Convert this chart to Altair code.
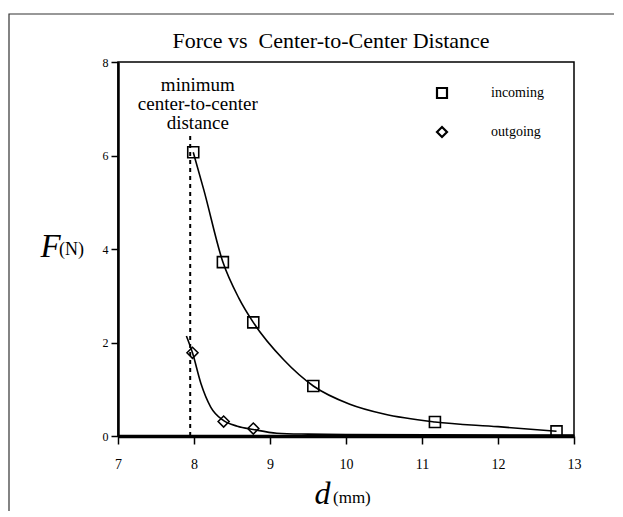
import altair as alt
import pandas as pd

# measured data points
inc_x = [7.99, 8.38, 8.78, 9.57, 11.17, 12.77]
inc_y = [6.07, 3.72, 2.43, 1.07, 0.30, 0.10]
out_x = [7.98, 8.39, 8.78]
out_y = [1.78, 0.31, 0.16]

# fitted curves
inc_fit_x = [7.99, 8.13, 8.38, 8.59, 8.78, 9.18, 9.57, 10.05, 10.5, 11.17, 12.0, 12.77]
inc_fit_y = [6.07, 5.26, 3.72, 2.95, 2.43, 1.63, 1.07, 0.68, 0.47, 0.30, 0.20, 0.10]
out_fit_x = [7.90, 7.98, 8.09, 8.22, 8.39, 8.57, 8.78, 9.09, 9.5, 10.0, 13.0]
out_fit_y = [2.14, 1.78, 1.13, 0.62, 0.33, 0.21, 0.14, 0.06, 0.04, 0.03, 0.02]

min_dist_x = [7.95]
min_dist_top = [6.44]

x_ticks = [7, 8, 9, 10, 11, 12, 13]
y_ticks = [0, 2, 4, 6, 8]

title_text = ["Force vs\u00a0 Center-to-Center Distance"]
unit_texts = ["(N)", "(mm)"]

SERIF = "Liberation Serif, Times New Roman, serif"

pts = pd.DataFrame({
    "d": inc_x + out_x,
    "F": inc_y + out_y,
    "series": ["incoming"] * len(inc_x) + ["outgoing"] * len(out_x),
})
inc_fit = pd.DataFrame({"d": inc_fit_x, "F": inc_fit_y})
out_fit = pd.DataFrame({"d": out_fit_x, "F": out_fit_y})
vline = pd.DataFrame({"d": min_dist_x, "y0": [0], "y1": min_dist_top})
note = pd.DataFrame({"d": [8.05], "F": [7.70],
                     "txt": ["minimum\ncenter-to-center\ndistance"]})
units = pd.DataFrame({"u": unit_texts})
ttl = pd.DataFrame({"t": title_text})

xs = alt.Scale(domain=[7, 13], nice=False, zero=False)
ys = alt.Scale(domain=[0, 8], nice=False)

xenc = alt.X("d:Q", scale=xs, axis=alt.Axis(
    values=x_ticks, format="d", title="d", titleFontStyle="italic", titleFontSize=32,
    titleFont=SERIF, titleFontWeight="normal", titleX=204, titleY=67,
    titleAlign="center", titleBaseline="alphabetic", labelFont=SERIF,
    labelFontSize=14, labelPadding=13, tickSize=8, tickWidth=1.5,
    domainWidth=3.5, labelFlush=False))
yenc = alt.Y("F:Q", scale=ys, axis=alt.Axis(
    values=y_ticks, format="d", title="F", titleFontStyle="italic", titleFontSize=33,
    titleFont=SERIF, titleFontWeight="normal", titleAngle=0, titleX=-68,
    titleY=194, titleAlign="center", titleBaseline="alphabetic", labelFont=SERIF,
    labelFontSize=12, labelPadding=3, tickSize=7, tickWidth=1.5,
    domainWidth=2.5, labelFlush=False))

frame = alt.Chart(ttl).mark_rect(
    filled=False, stroke="#333", strokeWidth=1.2).encode(
    x=alt.value(-109), x2=alt.value(520), y=alt.value(-48), y2=alt.value(480))

title_mark = alt.Chart(ttl).mark_text(
    font=SERIF, fontSize=22, align="center", baseline="alphabetic", color="black").encode(
    x=alt.value(213), y=alt.value(-14), text="t:N")

curves_in = alt.Chart(inc_fit).mark_line(
    color="black", strokeWidth=1.6, interpolate="monotone").encode(x=xenc, y=yenc)
curves_out = alt.Chart(out_fit).mark_line(
    color="black", strokeWidth=1.6, interpolate="monotone").encode(x="d:Q", y="F:Q")

rule = alt.Chart(vline).mark_rule(
    color="black", strokeWidth=2, strokeDash=[4, 4]).encode(
    x="d:Q", y="y0:Q", y2="y1:Q")

points = alt.Chart(pts).mark_point(
    filled=False, color="black", size=121, strokeWidth=1.6, opacity=1).encode(
    x="d:Q", y="F:Q",
    shape=alt.Shape("series:N", scale=alt.Scale(
        domain=["incoming", "outgoing"], range=["square", "diamond"]),
        legend=alt.Legend(title=None, orient="none", legendX=317, legendY=24,
                          labelFont=SERIF, labelFontSize=14, labelOffset=42,
                          rowPadding=19, symbolSize=100, symbolStrokeWidth=2.2,
                          symbolStrokeColor="black", symbolFillColor="transparent",
                          padding=0, labelColor="black")))

note_txt = alt.Chart(note).mark_text(
    font=SERIF, fontSize=19, lineBreak="\n", lineHeight=19, baseline="top",
    align="center", color="black").encode(x="d:Q", y="F:Q", text="txt:N")

unit_n = alt.Chart(units.head(1)).mark_text(
    font=SERIF, fontSize=18, align="left", baseline="alphabetic", color="black").encode(
    x=alt.value(-59), y=alt.value(193), text="u:N")
unit_mm = alt.Chart(units.tail(1)).mark_text(
    font=SERIF, fontSize=17, align="left", baseline="alphabetic", color="black").encode(
    x=alt.value(215), y=alt.value(441), text="u:N")

chart = alt.layer(frame, title_mark, curves_in, curves_out, rule, points, note_txt,
                  unit_n, unit_mm).properties(
    width=456, height=374,
    autosize=alt.AutoSizeParams(type="none"),
    padding={"left": 110, "top": 54, "right": 40, "bottom": 75},
).configure(font=SERIF).configure_view(stroke="black", strokeWidth=1.5).configure_axis(
    grid=False, labelFont=SERIF, labelColor="black", domainColor="black",
    tickColor="black", titleColor="black").configure_text(font=SERIF)

chart.save("out.html", embed_options={"renderer": "svg", "actions": False})
